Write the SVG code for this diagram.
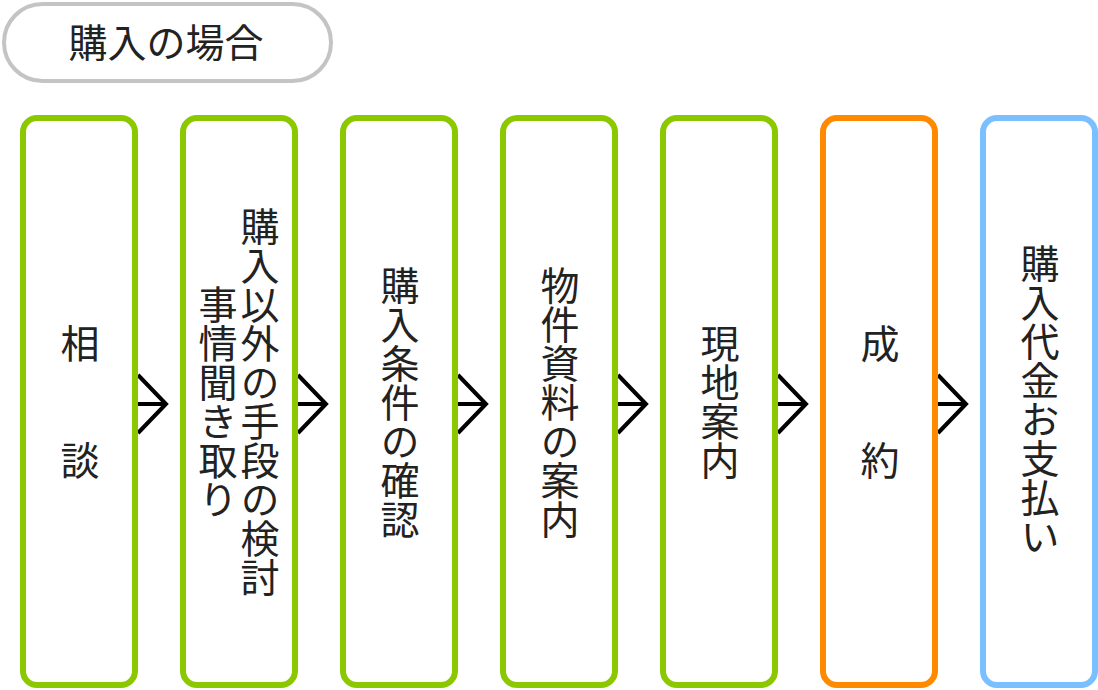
<svg xmlns="http://www.w3.org/2000/svg" width="1098" height="690" viewBox="0 0 1098 690">
<style>
.box{fill:#fff;stroke-width:6}
.g{stroke:#8cc800}
.o{stroke:#ff8a00}
.b{stroke:#7abfff}
.t{font-family:"Noto Sans CJK JP","Noto Sans CJK SC",sans-serif;font-size:39px;font-weight:400;fill:#222;text-anchor:middle}
.v{writing-mode:vertical-rl}
.arr{fill:none;stroke:#000;stroke-width:4}
</style>
<rect width="1098" height="690" fill="#fff"/>
<g id="title">
<rect x="4" y="4" width="327" height="77" rx="38.5" fill="#fff" stroke="#c4c4c4" stroke-width="4"/>
<text class="t" x="166" y="57">購入の場合</text>
</g>
<g id="connectors">
<path class="arr" d="M138,375 L166,404 L138,433 M138,404 H166"/>
<path class="arr" d="M298,375 L326,404 L298,433 M298,404 H326"/>
<path class="arr" d="M458,375 L486,404 L458,433 M458,404 H486"/>
<path class="arr" d="M618,375 L646,404 L618,433 M618,404 H646"/>
<path class="arr" d="M778,375 L806,404 L778,433 M778,404 H806"/>
<path class="arr" d="M938,375 L966,404 L938,433 M938,404 H966"/>
</g>
<g id="n1">
<rect class="box g" x="23" y="118" width="112" height="567" rx="14"/>
<text class="t v" x="80" y="402">相　　談</text>
</g>
<g id="n2">
<rect class="box g" x="183" y="118" width="112" height="567" rx="14"/>
<text class="t v" x="260" y="402">購入以外の手段の検討</text>
<text class="t v" x="218" y="402">事情聞き取り</text>
</g>
<g id="n3">
<rect class="box g" x="343" y="118" width="112" height="567" rx="14"/>
<text class="t v" x="400" y="402">購入条件の確認</text>
</g>
<g id="n4">
<rect class="box g" x="503" y="118" width="112" height="567" rx="14"/>
<text class="t v" x="560" y="402">物件資料の案内</text>
</g>
<g id="n5">
<rect class="box g" x="663" y="118" width="112" height="567" rx="14"/>
<text class="t v" x="720" y="402">現地案内</text>
</g>
<g id="n6">
<rect class="box o" x="823" y="118" width="112" height="567" rx="14"/>
<text class="t v" x="880" y="402">成　　約</text>
</g>
<g id="n7">
<rect class="box b" x="983" y="118" width="112" height="567" rx="14"/>
<text class="t v" x="1040" y="400">購入代金お支払い</text>
</g>
</svg>
